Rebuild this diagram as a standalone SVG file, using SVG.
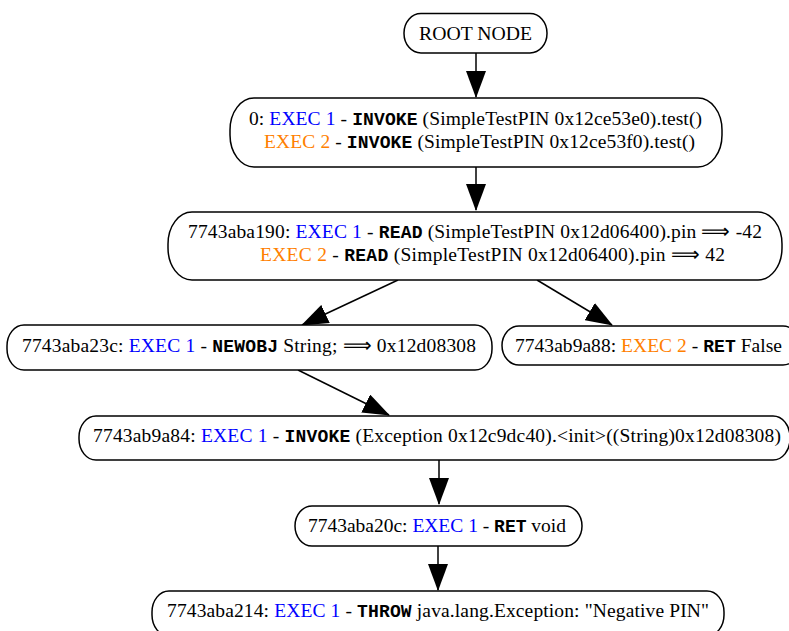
<svg xmlns="http://www.w3.org/2000/svg" width="789" height="631" viewBox="0 0 789 631">
<style>
  .box { fill: #ffffff; stroke: #000000; stroke-width: 1.5; }
  .t { font-family: "Liberation Serif", "Times New Roman", serif; font-size: 19.5px; fill: #000000; }
  .m { font-family: "Liberation Mono", "Courier New", monospace; font-weight: bold; font-size: 18px; }
  .e1 { fill: #0000ff; }
  .e2 { fill: #ff8000; }
  .edge { stroke: #000000; stroke-width: 1.5; fill: none; marker-end: url(#arrow); }
</style>
<defs>
  <marker id="arrow" markerUnits="userSpaceOnUse" markerWidth="27" markerHeight="20" viewBox="0 0 27 20" refX="26" refY="10" orient="auto">
    <path d="M0,0 L27,10 L0,20 z" fill="#000000"/>
  </marker>
</defs>
<rect width="789" height="631" fill="#ffffff"/>

<g id="edges">
  <line class="edge" x1="476" y1="53" x2="476" y2="97"/>
  <line class="edge" x1="476" y1="167" x2="476" y2="210"/>
  <line class="edge" x1="398" y1="280" x2="302" y2="325"/>
  <line class="edge" x1="537" y1="280" x2="612" y2="325"/>
  <line class="edge" x1="298" y1="370" x2="389" y2="415"/>
  <line class="edge" x1="439" y1="460" x2="439" y2="504"/>
  <line class="edge" x1="438" y1="546" x2="438" y2="590"/>
</g>

<g id="root">
  <rect class="box" x="404" y="13.5" width="143" height="39.5" rx="17" ry="19.5"/>
  <text class="t" x="419" y="39.5" textLength="113" lengthAdjust="spacingAndGlyphs">ROOT NODE</text>
</g>

<g id="n0">
  <rect class="box" x="230" y="98" width="492" height="69" rx="24" ry="32"/>
  <text class="t" x="249" y="125" textLength="453" lengthAdjust="spacing">0: <tspan class="e1">EXEC 1</tspan> - <tspan class="m">INVOKE</tspan> (SimpleTestPIN 0x12ce53e0).test()</text>
  <text class="t" x="264" y="148" textLength="431" lengthAdjust="spacing"><tspan class="e2">EXEC 2</tspan> - <tspan class="m">INVOKE</tspan> (SimpleTestPIN 0x12ce53f0).test()</text>
</g>

<g id="n190">
  <rect class="box" x="168" y="212" width="614" height="68" rx="24" ry="32"/>
  <text class="t" x="188" y="238" textLength="574" lengthAdjust="spacing">7743aba190: <tspan class="e1">EXEC 1</tspan> - <tspan class="m">READ</tspan> (SimpleTestPIN 0x12d06400).pin ⟹ -42</text>
  <text class="t" x="260" y="261" textLength="465" lengthAdjust="spacing"><tspan class="e2">EXEC 2</tspan> - <tspan class="m">READ</tspan> (SimpleTestPIN 0x12d06400).pin ⟹ 42</text>
</g>

<g id="n23c">
  <rect class="box" x="7" y="325" width="485" height="45" rx="17" ry="21"/>
  <text class="t" x="22" y="352" textLength="454" lengthAdjust="spacing">7743aba23c: <tspan class="e1">EXEC 1</tspan> - <tspan class="m">NEWOBJ</tspan> String; ⟹ 0x12d08308</text>
</g>

<g id="n9a88">
  <rect class="box" x="502" y="326" width="298" height="39" rx="17" ry="19.5"/>
  <text class="t" x="515" y="351.5" textLength="267" lengthAdjust="spacing">7743ab9a88: <tspan class="e2">EXEC 2</tspan> - <tspan class="m">RET</tspan> False</text>
</g>

<g id="n9a84">
  <rect class="box" x="79" y="416" width="711" height="44" rx="17" ry="21"/>
  <text class="t" x="93" y="442" textLength="688" lengthAdjust="spacing">7743ab9a84: <tspan class="e1">EXEC 1</tspan> - <tspan class="m">INVOKE</tspan> (Exception 0x12c9dc40).&lt;init&gt;((String)0x12d08308)</text>
</g>

<g id="n20c">
  <rect class="box" x="295" y="506" width="287" height="40" rx="17" ry="20"/>
  <text class="t" x="308" y="532" textLength="258" lengthAdjust="spacing">7743aba20c: <tspan class="e1">EXEC 1</tspan> - <tspan class="m">RET</tspan> void</text>
</g>

<g id="n214">
  <rect class="box" x="152" y="591" width="572" height="45" rx="17" ry="21"/>
  <text class="t" x="167" y="617" textLength="542" lengthAdjust="spacing">7743aba214: <tspan class="e1">EXEC 1</tspan> - <tspan class="m">THROW</tspan> java.lang.Exception: "Negative PIN"</text>
</g>
</svg>
